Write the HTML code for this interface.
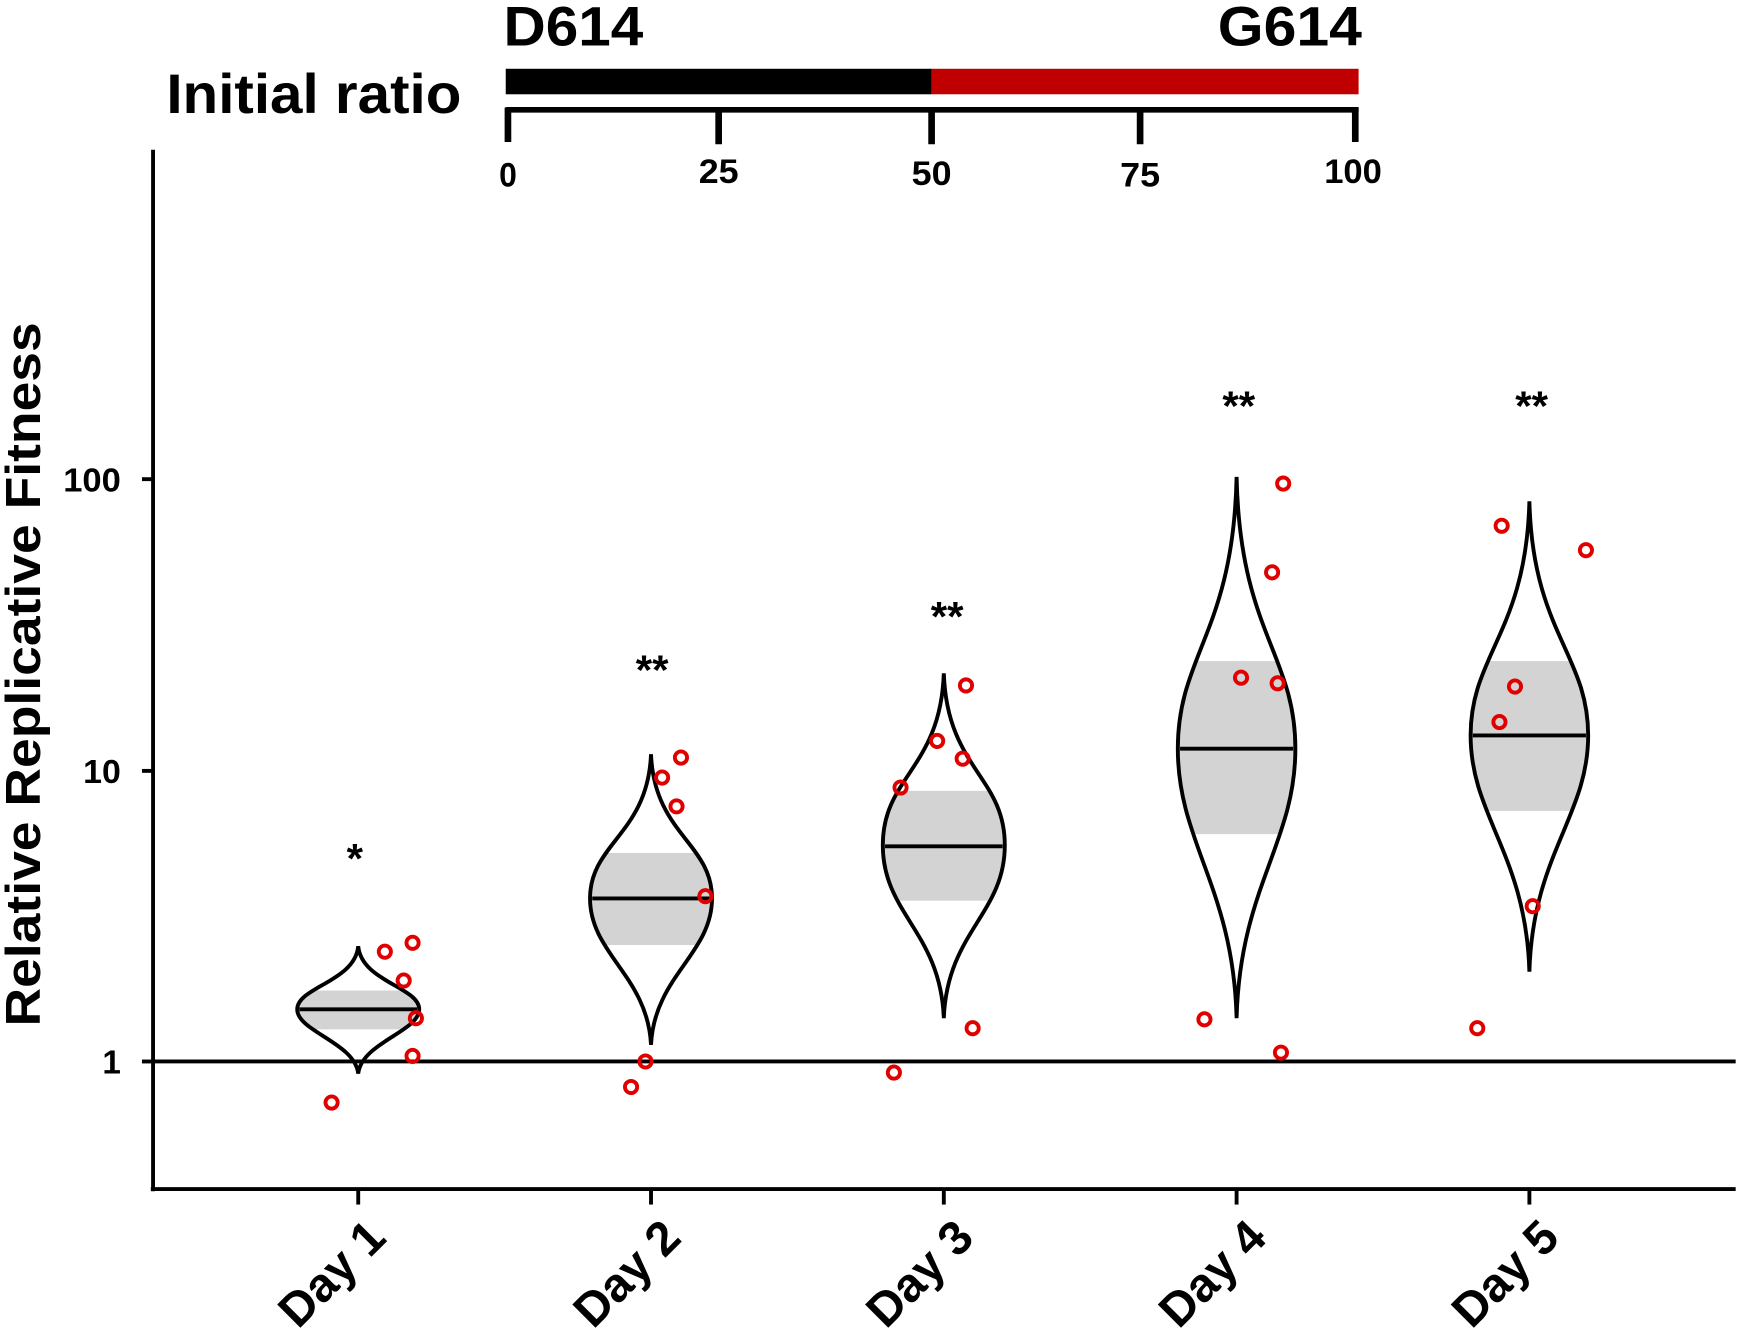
<!DOCTYPE html>
<html><head><meta charset="utf-8"><style>
html,body{margin:0;padding:0;background:#fff;}
svg{display:block;}
text{font-family:"Liberation Sans",Arial,sans-serif;font-weight:bold;fill:#000;}
</style></head><body>
<svg width="1739" height="1341" viewBox="0 0 1568 1209" preserveAspectRatio="none" xmlns="http://www.w3.org/2000/svg">
<rect width="1568" height="1209" fill="#fff"/>
<!-- header -->
<text x="454" y="41" font-size="50" textLength="126" lengthAdjust="spacingAndGlyphs">D614</text>
<text x="1098" y="41" font-size="50" textLength="130" lengthAdjust="spacingAndGlyphs">G614</text>
<text x="150" y="102" font-size="50" textLength="266" lengthAdjust="spacingAndGlyphs">Initial ratio</text>
<rect x="456" y="62" width="384" height="23" fill="#000"/>
<rect x="840" y="62" width="385" height="23" fill="#c00000"/>
<line x1="456" y1="99" x2="1225" y2="99" stroke="#000" stroke-width="5"/>
<g stroke="#000" stroke-width="6">
<line x1="458" y1="97" x2="458" y2="128"/><line x1="648" y1="97" x2="648" y2="130"/>
<line x1="840" y1="97" x2="840" y2="130"/><line x1="1028" y1="97" x2="1028" y2="130"/>
<line x1="1222" y1="97" x2="1222" y2="128"/></g>
<g font-size="31" text-anchor="middle">
<text x="458" y="168" textLength="16" lengthAdjust="spacingAndGlyphs">0</text><text x="648" y="165" textLength="36" lengthAdjust="spacingAndGlyphs">25</text><text x="840" y="167" textLength="36" lengthAdjust="spacingAndGlyphs">50</text>
<text x="1028" y="168" textLength="36" lengthAdjust="spacingAndGlyphs">75</text><text x="1220" y="165" textLength="52" lengthAdjust="spacingAndGlyphs">100</text></g>
<!-- axes -->
<line x1="138" y1="135" x2="138" y2="1074" stroke="#000" stroke-width="3.5"/>
<line x1="136" y1="1072" x2="1565" y2="1072" stroke="#000" stroke-width="3.5"/>
<line x1="138" y1="957" x2="1565" y2="957" stroke="#000" stroke-width="3.5"/>
<g stroke="#000" stroke-width="3.5">
<line x1="128" y1="432" x2="138" y2="432"/><line x1="128" y1="695" x2="138" y2="695"/><line x1="128" y1="957" x2="138" y2="957"/>
<line x1="323" y1="1072" x2="323" y2="1086"/><line x1="587" y1="1072" x2="587" y2="1086"/><line x1="851" y1="1072" x2="851" y2="1086"/><line x1="1115" y1="1072" x2="1115" y2="1086"/><line x1="1379" y1="1072" x2="1379" y2="1086"/></g>
<g font-size="30" text-anchor="end">
<text x="109" y="443" textLength="52" lengthAdjust="spacingAndGlyphs">100</text><text x="109" y="706" textLength="34" lengthAdjust="spacingAndGlyphs">10</text><text x="109" y="968">1</text></g>
<text transform="translate(36,608) rotate(-90)" font-size="44" text-anchor="middle" textLength="635" lengthAdjust="spacingAndGlyphs">Relative Replicative Fitness</text>
<g font-size="43" text-anchor="end">
<text transform="translate(350,1118) rotate(-45)">Day 1</text>
<text transform="translate(616,1118) rotate(-45)">Day 2</text>
<text transform="translate(880,1118) rotate(-45)">Day 3</text>
<text transform="translate(1144,1118) rotate(-45)">Day 4</text>
<text transform="translate(1408,1118) rotate(-45)">Day 5</text></g>
<!-- stars -->
<g font-size="38" text-anchor="middle">
<text x="320" y="787">*</text><text x="588" y="617">**</text><text x="854" y="569">**</text>
<text x="1117" y="379">**</text><text x="1381" y="379">**</text></g>
<defs>
<clipPath id="c1"><path d="M323,853 C326,885 378,890 378,910 C378,930 326,940 323,968 C320,940 268,930 268,910 C268,890 320,885 323,853Z"/></clipPath>
<clipPath id="c2"><path d="M587,680 C590,752 642,760 642,810 C642,860 590,880 587,942 C584,880 532,860 532,810 C532,760 584,752 587,680Z"/></clipPath>
<clipPath id="c3"><path d="M851,607 C854,693 906,700 906,762 C906,824 854,840 851,918 C848,840 796,824 796,762 C796,700 848,693 851,607Z"/></clipPath>
<clipPath id="c4"><path d="M1115,430 C1118,570 1168,590 1168,675 C1168,760 1118,800 1115,918 C1112,800 1062,760 1062,675 C1062,590 1112,570 1115,430Z"/></clipPath>
<clipPath id="c5"><path d="M1379,452 C1382,570 1432,590 1432,663 C1432,736 1382,770 1379,876 C1376,770 1326,736 1326,663 C1326,590 1376,570 1379,452Z"/></clipPath>
</defs>
<g fill="#d3d3d3">
<rect x="260" y="893" width="130" height="35" clip-path="url(#c1)"/>
<rect x="520" y="769" width="130" height="83" clip-path="url(#c2)"/>
<rect x="790" y="713" width="130" height="99" clip-path="url(#c3)"/>
<rect x="1050" y="596" width="130" height="156" clip-path="url(#c4)"/>
<rect x="1320" y="596" width="130" height="135" clip-path="url(#c5)"/></g>
<g fill="none" stroke="#000" stroke-width="3.5">
<path d="M323,853 C326,885 378,890 378,910 C378,930 326,940 323,968 C320,940 268,930 268,910 C268,890 320,885 323,853Z"/>
<path d="M587,680 C590,752 642,760 642,810 C642,860 590,880 587,942 C584,880 532,860 532,810 C532,760 584,752 587,680Z"/>
<path d="M851,607 C854,693 906,700 906,762 C906,824 854,840 851,918 C848,840 796,824 796,762 C796,700 848,693 851,607Z"/>
<path d="M1115,430 C1118,570 1168,590 1168,675 C1168,760 1118,800 1115,918 C1112,800 1062,760 1062,675 C1062,590 1112,570 1115,430Z"/>
<path d="M1379,452 C1382,570 1432,590 1432,663 C1432,736 1382,770 1379,876 C1376,770 1326,736 1326,663 C1326,590 1376,570 1379,452Z"/>
<line x1="270" y1="910" x2="376" y2="910"/><line x1="534" y1="810" x2="640" y2="810"/>
<line x1="798" y1="763" x2="904" y2="763"/><line x1="1064" y1="675" x2="1166" y2="675"/>
<line x1="1328" y1="663" x2="1430" y2="663"/></g>
<g fill="none" stroke="#e00000" stroke-width="3.5">
<circle cx="299" cy="994" r="5.5"/><circle cx="347" cy="858" r="5.5"/><circle cx="372" cy="850" r="5.5"/><circle cx="364" cy="884" r="5.5"/><circle cx="375" cy="918" r="5.5"/><circle cx="372" cy="952" r="5.5"/>
<circle cx="569" cy="980" r="5.5"/><circle cx="582" cy="957" r="5.5"/><circle cx="597" cy="701" r="5.5"/><circle cx="614" cy="683" r="5.5"/><circle cx="610" cy="727" r="5.5"/><circle cx="636" cy="808" r="5.5"/>
<circle cx="806" cy="967" r="5.5"/><circle cx="812" cy="710" r="5.5"/><circle cx="845" cy="668" r="5.5"/><circle cx="868" cy="684" r="5.5"/><circle cx="871" cy="618" r="5.5"/><circle cx="877" cy="927" r="5.5"/>
<circle cx="1086" cy="919" r="5.5"/><circle cx="1119" cy="611" r="5.5"/><circle cx="1147" cy="516" r="5.5"/><circle cx="1152" cy="616" r="5.5"/><circle cx="1157" cy="436" r="5.5"/><circle cx="1155" cy="949" r="5.5"/>
<circle cx="1332" cy="927" r="5.5"/><circle cx="1354" cy="474" r="5.5"/><circle cx="1366" cy="619" r="5.5"/><circle cx="1352" cy="651" r="5.5"/><circle cx="1430" cy="496" r="5.5"/><circle cx="1382" cy="817" r="5.5"/></g>
</svg>
</body></html>
